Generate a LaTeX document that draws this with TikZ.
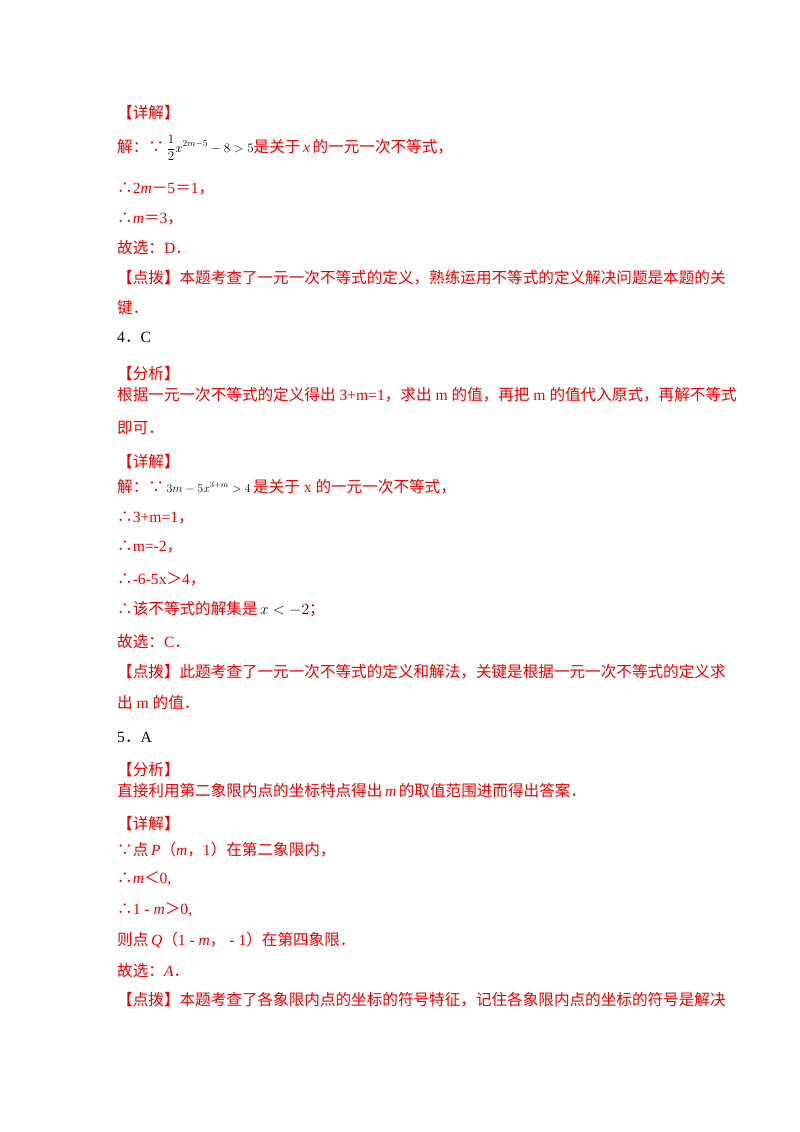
\RequirePackage{fix-cm}
\documentclass[tikz,border=0pt]{standalone}
\usepackage{fontspec}
\setmainfont{Liberation Serif}
\newfontfamily\cjk{Noto Sans CJK SC}
\newcommand{\cj}[1]{{\cjk #1}}
\definecolor{rd}{RGB}{238,0,0}
\begin{document}
\begin{tikzpicture}[x=1pt,y=-1pt,
  ln/.style={anchor=base west,inner sep=0pt,font=\fontsize{15.6}{18}\selectfont,text=rd},
  bk/.style={ln,text=black}]
\useasboundingbox (0,0) rectangle (800,1132);
\node[ln] (l1) at (117,118) {\cj{【详解】}};
\node[ln] (l2) at (117,152) {\cj{解：∵}\,{\color{black}\fontsize{13}{15}\selectfont$\displaystyle\frac{1}{2}x^{2m-5}-8>5$}\cj{是关于}\,\textit{x}\,\cj{的一元一次不等式，}};
\node[ln] (l3) at (117,193) {\cj{∴}2\textit{m}\cj{－}5\cj{＝}1\cj{，}};
\node[ln] (l4) at (117,223) {\cj{∴}\textit{m}\cj{＝}3\cj{，}};
\node[ln] (l5) at (117,253) {\cj{故选：}D\cj{．}};
\node[ln] (l6) at (117,283) {\cj{【点拨】本题考查了一元一次不等式的定义，熟练运用不等式的定义解决问题是本题的关}};
\node[ln] (l7) at (117,313) {\cj{键．}};
\node[bk] (l8) at (117,342) {4\cj{．}C};
\node[ln] (l9) at (117,379) {\cj{【分析】}};
\node[ln] (l10) at (117,400) {\cj{根据一元一次不等式的定义得出} 3+m=1\cj{，求出} m \cj{的值，再把} m \cj{的值代入原式，再解不等式}};
\node[ln] (l11) at (117,433) {\cj{即可．}};
\node[ln] (l12) at (117,467) {\cj{【详解】}};
\node[ln] (l13) at (117,492) {\cj{解：∵}\,{\color{black}\fontsize{12}{14}\selectfont$3m-5x^{3+m}>4$}\,\cj{是关于} x \cj{的一元一次不等式，}};
\node[ln] (l14) at (117,522) {\cj{∴}3+m=1\cj{，}};
\node[ln] (l15) at (117,551) {\cj{∴}m=-2\cj{，}};
\node[ln] (l16) at (117,584) {\cj{∴}-6-5x\cj{＞}4\cj{，}};
\node[ln] (l17) at (117,614) {\cj{∴该不等式的解集是}\,{\color{black}$x<-2$}\cj{；}};
\node[ln] (l18) at (117,647) {\cj{故选：}C\cj{．}};
\node[ln] (l19) at (117,677) {\cj{【点拨】此题考查了一元一次不等式的定义和解法，关键是根据一元一次不等式的定义求}};
\node[ln] (l20) at (117,708) {\cj{出} m \cj{的值．}};
\node[bk] (l21) at (117,742) {5\cj{．}A};
\node[ln] (l22) at (117,775) {\cj{【分析】}};
\node[ln] (l23) at (117,796) {\cj{直接利用第二象限内点的坐标特点得出}\,\textit{m}\,\cj{的取值范围进而得出答案．}};
\node[ln] (l24) at (117,829) {\cj{【详解】}};
\node[ln] (l25) at (117,855) {\cj{∵点}\,\textit{P}\cj{（}\textit{m}\cj{，}1\cj{）在第二象限内，}};
\node[ln] (l26) at (117,883) {\cj{∴}\textit{m}\cj{＜}0,};
\node[ln] (l27) at (117,914) {\cj{∴}1 - \textit{m}\cj{＞}0,};
\node[ln] (l28) at (117,945) {\cj{则点}\,\textit{Q}\cj{（}1 - \textit{m}\cj{，} - 1\cj{）在第四象限．}};
\node[ln] (l29) at (117,976) {\cj{故选：}\textit{A}\cj{．}};
\node[ln] (l30) at (117,1005) {\cj{【点拨】本题考查了各象限内点的坐标的符号特征，记住各象限内点的坐标的符号是解决}};
\end{tikzpicture}
\end{document}
